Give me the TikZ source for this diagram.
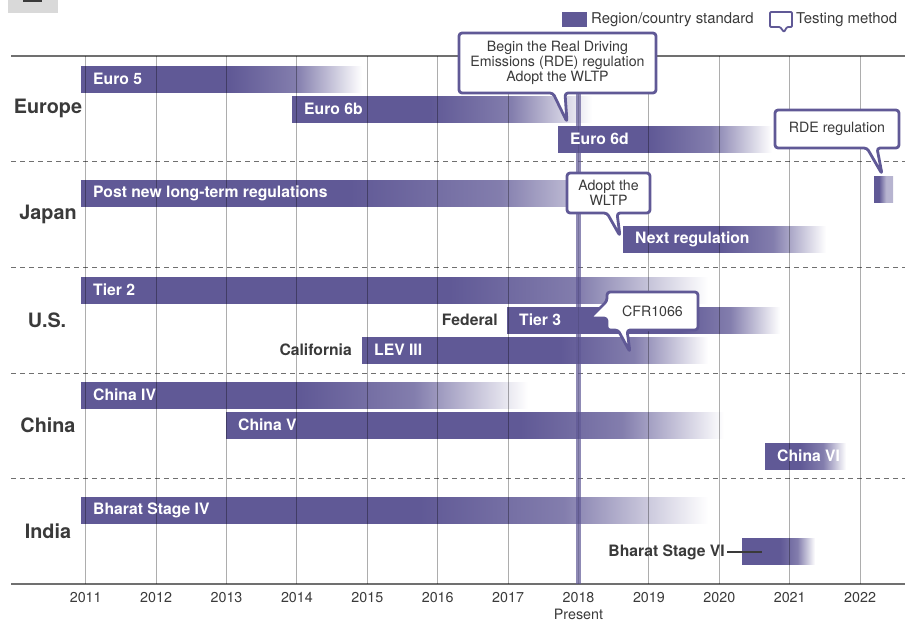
\documentclass[tikz,border=0pt]{standalone}
\usepackage{fontspec}
\setmainfont{TeX Gyre Heros}
\definecolor{barc}{RGB}{96,89,150}
\definecolor{textc}{RGB}{58,58,58}
\definecolor{rulec}{RGB}{112,112,112}
\definecolor{tabc}{RGB}{217,217,217}
% a standard bar drawn as one shading: [end colour] start, fade start, fade end, top edge
\newcounter{barno}
\newcommand\stdbar[5][white]{%
  \stepcounter{barno}%
  \pgfmathsetmacro\fadeA{25+((#3-#2)/(#4-#2))*50}%
  \pgfmathsetmacro\fadeB{(\fadeA+75)/2}%
  \pgfdeclarehorizontalshading{barfade\thebarno}{100bp}{color(0bp)=(barc);
    color(\fadeA bp)=(barc); color(\fadeB bp)=(barc!78!#1);
    color(75bp)=(#1); color(100bp)=(#1)}%
  \shade[shading=barfade\thebarno] (#2,#5) rectangle (#4,#5+26);}
\begin{document}
\begin{tikzpicture}[x=1pt,y=-1pt,
  rule/.style={draw=rulec,line width=1.6},
  sep/.style={draw=rulec,line width=1,dash pattern=on 5 off 4},
  gridline/.style={draw=black,draw opacity=.32,line width=1},
  present/.style={draw=barc,draw opacity=.7,line width=5},
  barlabel/.style={anchor=west,inner sep=0,text=white,font=\fontsize{15.7}{18}\selectfont\bfseries},
  sidelabel/.style={anchor=east,inner sep=0,text=textc,font=\fontsize{15.7}{18}\selectfont\bfseries},
  region/.style={inner sep=0,text=textc,font=\fontsize{19.8}{22}\selectfont\bfseries},
  yearlabel/.style={inner sep=0,text=textc,font=\fontsize{14.3}{16}\selectfont},
  legendtext/.style={anchor=west,inner sep=0,text=textc,font=\fontsize{14.9}{16}\selectfont},
  calltext/.style={inner sep=0,text=textc,align=center,font=\fontsize{14.2}{15}\selectfont},
  callout/.style={draw=barc,fill=white,line width=2.8,rounded corners=3,line join=round},
]
\useasboundingbox (0,0) rectangle (908,622);

% tab in the upper left corner
\fill[tabc] (8,0) rectangle (58,13);
\fill[textc] (23,0) rectangle (42,1.5);

% region rules
\draw[rule] (11,56) -- (905,56);
\foreach \yy in {161,267,373,478}
  \draw[sep] (11,\yy) -- (905,\yy);
\draw[rule] (11,584) -- (905,584);

% Europe
\stdbar{81}{230}{362}{66}
\stdbar{292}{430}{592}{96}
\stdbar{558}{650}{772}{126}
% Japan
\stdbar{81}{350}{650}{180}
\stdbar{623}{720}{826}{226}
\stdbar[barc!45!white]{874}{879}{893}{176}
% U.S.
\stdbar{81}{450}{708}{277}
\stdbar{507}{680}{780}{307}
\stdbar{362}{560}{708}{337}
% China
\stdbar{81}{300}{528}{382}
\stdbar{226}{520}{724}{412}
\stdbar{765}{800}{846}{443}
% India
\stdbar{81}{420}{708}{497}
\stdbar{742}{780}{815}{538}

% year grid
\foreach \yr [evaluate=\yr as \xx using 85.7+70.4*(\yr-2011)] in {2011,...,2022}{
  \draw[gridline] (\xx,56) -- (\xx,584);
  \node[yearlabel] (yr\yr) at (\xx,598) {\yr};
}
\node[yearlabel] (presentlab) at (578.5,614) {Present};
\draw[present] (578.5,56) -- (578.5,584);

% bar labels
\node[barlabel] (euro5) at (93,79) {Euro 5};
\node[barlabel] (euro6b) at (304,109) {Euro 6b};
\node[barlabel] (euro6d) at (570,139) {Euro 6d};
\node[barlabel] (jplong) at (93,193) {Post new long-term regulations};
\node[barlabel] (jpnext) at (635,239) {Next regulation};
\node[barlabel] (tier2) at (93,290) {Tier 2};
\node[barlabel] (tier3) at (519,320) {Tier 3};
\node[barlabel] (lev3) at (374,350) {LEV III};
\node[barlabel] (china4) at (93,395) {China IV};
\node[barlabel] (china5) at (238,425) {China V};
\node[barlabel] (china6) at (777,456) {China VI};
\node[barlabel] (bs4) at (93,510) {Bharat Stage IV};

\node[sidelabel] (federal) at (498,320) {Federal};
\node[sidelabel] (california) at (352,350) {California};
\node[sidelabel] (bs6) at (725,552) {Bharat Stage VI};
\coordinate (bs6bar) at (762,552);
\draw[textc,line width=1.4] (bs6.east) ++(2,0) -- (bs6bar);

% region names
\node[region] (europe) at (48,108) {Europe};
\node[region] (japan) at (48,214) {Japan};
\node[region] (us) at (47,320) {U.S.};
\node[region] (china) at (48,425) {China};
\node[region] (india) at (48,531) {India};

% testing-method callouts
\draw[callout] (459,33) -- (656,33) -- (656,93) -- (565,93) -- (567,122)
  -- (553,93) -- (459,93) -- cycle;
\node[calltext] (rde1) at (557.5,63) {Begin the Real Driving\\Emissions (RDE) regulation\\Adopt the WLTP};

\draw[callout] (775,110) -- (899,110) -- (899,148) -- (877,148) -- (882,174)
  -- (867,148) -- (775,148) -- cycle;
\node[calltext] (rde2) at (837,129) {RDE regulation};

\draw[callout] (567,173) -- (650,173) -- (650,213) -- (617,213) -- (620,236)
  -- (607,213) -- (567,213) -- cycle;
\node[calltext] (wltp) at (608.5,193) {Adopt the\\WLTP};

\draw[callout] (607,292) -- (698,292) -- (698,330) -- (627,330) -- (630,352)
  -- (618,330) -- (607,330) -- (607,318) -- (590,318) -- (607,301) -- cycle;
\node[calltext] (cfr) at (652.5,311) {CFR1066};

% legend
\fill[barc] (562,12) rectangle (587,27);
\node[legendtext] (legstd) at (591,19.5) {Region/country standard};
\draw[draw=barc,fill=white,line width=1.8,rounded corners=1,line join=round]
  (770,12) -- (792,12) -- (792,27) -- (787,27) -- (784,32) -- (780,27) -- (770,27) -- cycle;
\node[legendtext] (legtest) at (796,19.5) {Testing method};
\end{tikzpicture}
\end{document}
